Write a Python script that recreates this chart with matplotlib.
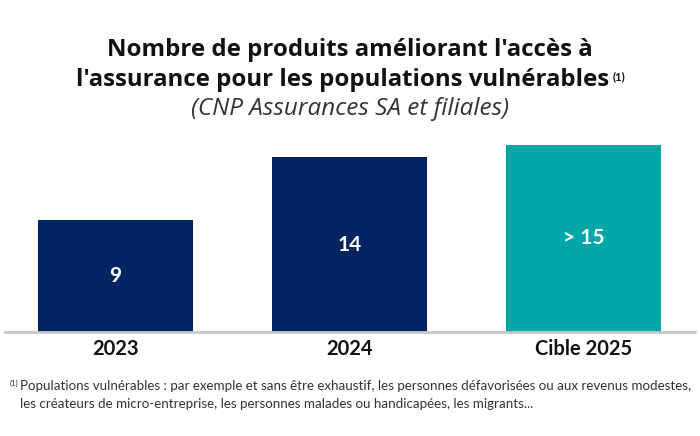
import matplotlib
matplotlib.use("Agg")
import matplotlib.pyplot as plt

categories = ["2023", "2024", "Cible 2025"]
values = [9, 14, 15]
labels = ["9", "14", "> 15"]
colors = ["#002361", "#002361", "#00A7A7"]

plt.rcParams['font.family'] = ['Lato', 'DejaVu Sans']
title_font = ['Open Sans', 'DejaVu Sans']

fig = plt.figure(figsize=(7, 4.36), dpi=100)
ax = fig.add_axes([0.007, 0.2385, 0.986, 0.458])

x = range(len(categories))
bars = ax.bar(x, values, width=0.662, color=colors)
for b, lab in zip(bars, labels):
    ax.text(b.get_x() + b.get_width() / 2, b.get_height() / 2, lab,
            ha='center', va='center', color='white', fontsize=15, fontweight='bold')

ax.set_xlim(-0.472, 2.476)
ax.set_ylim(0, 16)
ax.set_xticks(list(x))
ax.set_xticklabels(categories, fontsize=14.5, fontweight='bold', color='#111111')
ax.tick_params(axis='x', length=0, pad=5)
ax.set_yticks([])
for s in ['top', 'right', 'left']:
    ax.spines[s].set_visible(False)
ax.spines['bottom'].set_color('#C8C8C8')
ax.spines['bottom'].set_linewidth(2)

fig.text(0.5, 1 - 50 / 436, "Nombre de produits améliorant l'accès à",
         ha='center', va='center', fontsize=17.3, fontweight='bold', color='#111111',
         family=title_font)
t2 = fig.text(0.49, 1 - 80 / 436, "l'assurance pour les populations vulnérables",
              ha='center', va='center', fontsize=17.3, fontweight='bold', color='#111111',
              family=title_font)
fig.canvas.draw()
bb = t2.get_window_extent().transformed(fig.transFigure.inverted())
fig.text(bb.x1 + 0.004, bb.y1 - 0.008, "(1)", ha='left', va='top',
         fontsize=8, fontweight='bold', color='#111111')
fig.text(0.5, 1 - 109 / 436, "(CNP Assurances SA et filiales)",
         ha='center', va='center', fontsize=17.5, style='italic', color='#333333',
         family=title_font)

fig.text(10 / 700, 1 - 383 / 436, "(1)", ha='left', va='center', fontsize=5.5, color='#333333')
fig.text(20 / 700, 1 - 386 / 436,
         "Populations vulnérables : par exemple et sans être exhaustif, les personnes défavorisées ou aux revenus modestes,",
         ha='left', va='center', fontsize=9.6, color='#333333')
fig.text(20 / 700, 1 - 404 / 436,
         "les créateurs de micro-entreprise, les personnes malades ou handicapées, les migrants...",
         ha='left', va='center', fontsize=9.6, color='#333333')

fig.savefig("out.png", dpi=100)
